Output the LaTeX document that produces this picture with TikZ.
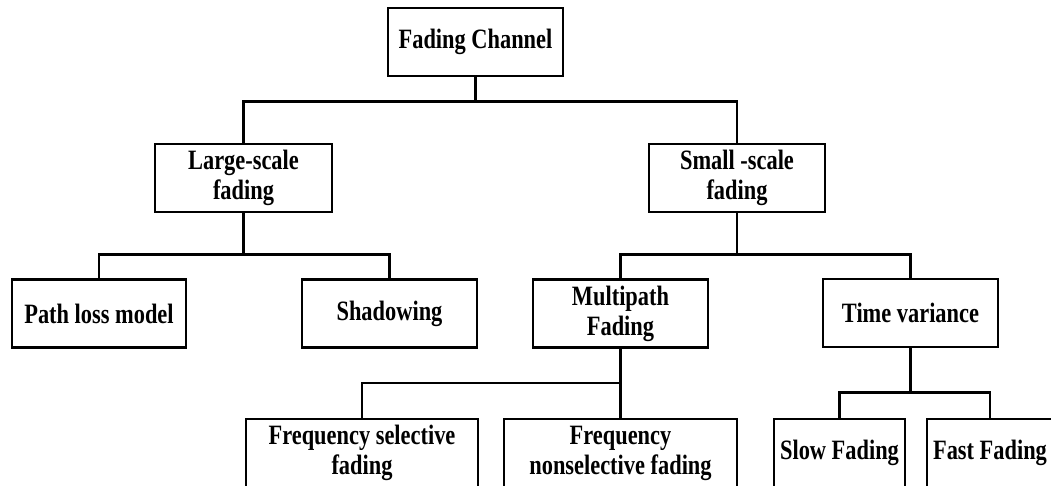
\documentclass[tikz,border=0pt]{standalone}
\usepackage{fontspec}
\newfontfamily\boxfont{Liberation Serif}[FakeStretch=0.8]

\tikzset{
  box/.style={draw, line width=2.6pt, minimum height=68pt, inner sep=2pt,
    align=center, font=\boxfont\bfseries\fontsize{28}{30}\selectfont},
  link/.style={line width=2.5pt}
}

\begin{document}
\begin{tikzpicture}[x=1pt,y=-1pt]
      \useasboundingbox (0,0) rectangle (1051,486);
      % root
      \node[box, minimum width=175pt] (fc) at (475.5,42) {Fading Channel};
      % scale level
      \node[box, minimum width=177pt] (large) at (243.5,178) {Large-scale\\fading};
      \node[box, minimum width=176pt] (small) at (737,178) {Small -scale\\fading};
      % third row
      \node[box, minimum width=174pt] (path) at (99,313.5) {Path loss model};
      \node[box, minimum width=175pt] (shadow) at (389.5,313.5) {Shadowing};
      \node[box, minimum width=175pt] (multi) at (620.5,313.5) {Multipath\\Fading};
      \node[box, minimum width=175pt] (timevar) at (910.5,313) {Time variance};
      % bottom row
      \node[box, minimum width=232pt] (fsel) at (362,453) {Frequency selective\\fading};
      \node[box, minimum width=233pt] (fnon) at (620.5,453) {Frequency\\nonselective fading};
      \node[box, minimum width=131pt] (slow) at (839.5,453) {Slow Fading};
      \node[box, minimum width=126pt] (fast) at (990,453) {Fast Fading};

      \draw[link] (fc.south) -- ++(0,24) -| (large.north);
      \draw[link] (fc.south) -- ++(0,24) -| (small.north);
      \draw[link] (large.south) -- ++(0,41) -| (path.north);
      \draw[link] (large.south) -- ++(0,41) -| (shadow.north);
      \draw[link] (small.south) -- ++(0,41) -| (multi.north);
      \draw[link] (small.south) -- ++(0,41) -| (timevar.north);
      \draw[link] (multi.south) -- ++(0,34) -| (fsel.north);
      \draw[link] (multi.south) -- (fnon.north);
      \draw[link] (timevar.south) -- ++(0,44) -| (slow.north);
      \draw[link] (timevar.south) -- ++(0,44) -| (fast.north);
\end{tikzpicture}
\end{document}
